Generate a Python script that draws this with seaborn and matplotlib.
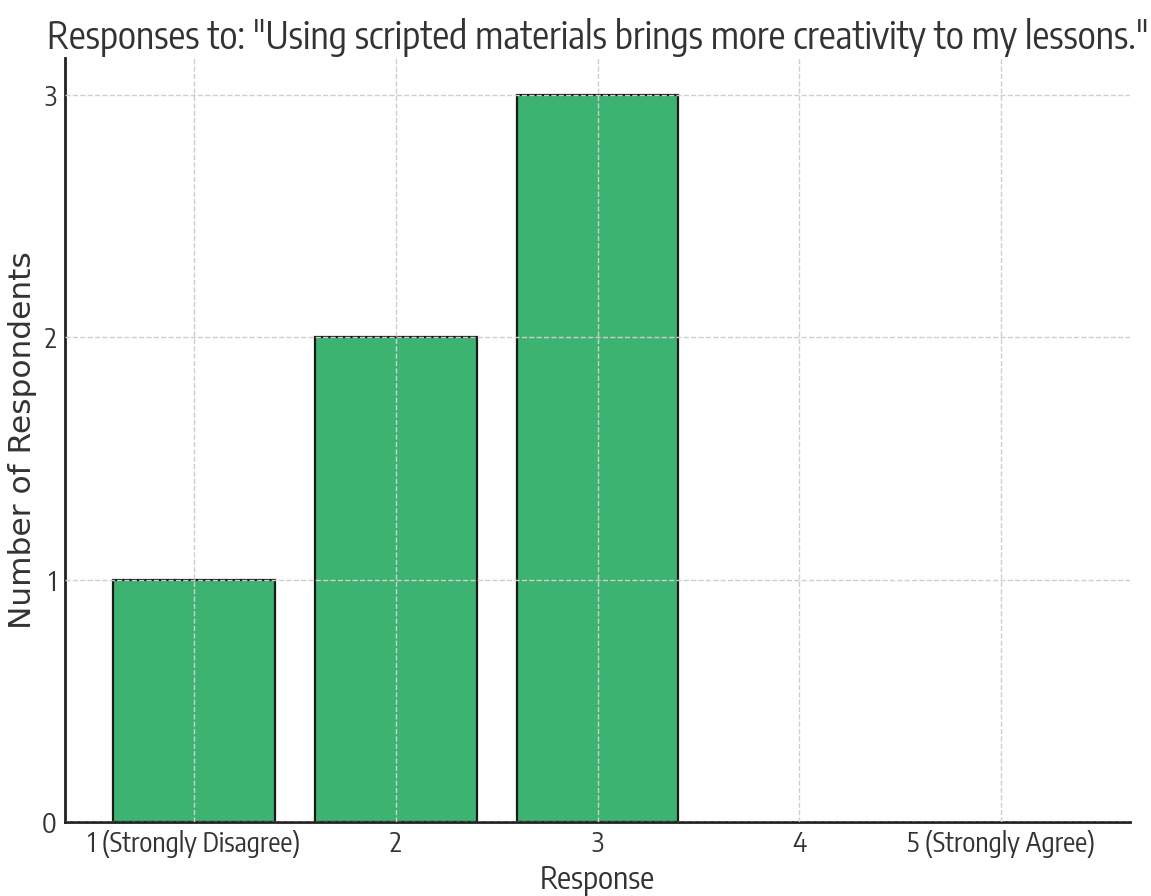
import matplotlib
matplotlib.use("Agg")
import matplotlib.pyplot as plt
import pandas as pd
import seaborn as sns

# Survey responses on the Likert scale and their counts
responses = ["1 (Strongly Disagree)", "2", "3", "4", "5 (Strongly Agree)"]
counts = [1, 2, 3, 0, 0]
y_ticks = [0, 1, 2, 3]
title = 'Responses to: "Using scripted materials brings more creativity to my lessons."'

sns.set_theme(style="white")
plt.rcParams["font.family"] = ["DejaVu Sans"]

TEXT = "#333333"
NARROW = ["Encode Sans Condensed", "DejaVu Sans"]

df = pd.DataFrame({"Response": responses, "Count": counts})

fig = plt.figure(figsize=(11.51, 8.96), dpi=100)
ax = fig.add_axes([0.0565, 0.0826, 0.9255, 0.8524])

sns.barplot(data=df, x="Response", y="Count", order=responses,
            color="#3CB371", saturation=1, edgecolor="#1a1a1a", linewidth=1.6,
            width=0.8, ax=ax)
# empty categories get no outline along the baseline
for bar in ax.patches:
    if bar.get_height() == 0:
        bar.set_linewidth(0)

ax.set_xlim(-0.64, 4.64)
ax.set_ylim(0, 3.15)
ax.set_yticks(y_ticks)

# dashed grid drawn over the bars
ax.grid(True, linestyle="--", color="#cfcfcf", linewidth=1.0)
ax.set_axisbelow(False)

for side in ("top", "right"):
    ax.spines[side].set_visible(False)
for side in ("left", "bottom"):
    ax.spines[side].set_color("#222222")
    ax.spines[side].set_linewidth(2.0)

ax.tick_params(axis="both", direction="in", length=7, width=1.2, color="#222222", pad=6)
for lbl in ax.get_xticklabels() + ax.get_yticklabels():
    lbl.set_fontfamily(NARROW)
    lbl.set_fontsize(18)
    lbl.set_color(TEXT)

ttl = ax.set_title(title, fontsize=27, pad=7, family=NARROW, color=TEXT)
xl = ax.set_xlabel("Response", fontsize=21, labelpad=4, family=NARROW, color=TEXT)
ax.set_ylabel("Number of Respondents", fontsize=22.5, color=TEXT)
ax.yaxis.set_label_coords(-0.026, 0.5)

# size the condensed texts to their intended widths (pixels)
fig.canvas.draw()
r = fig.canvas.get_renderer()

def fit(text, width_px):
    w = text.get_window_extent(r).width
    text.set_fontsize(text.get_fontsize() * width_px / w)

fit(ttl, 1102)
fit(xl, 115)
scale = 212 / ax.get_xticklabels()[0].get_window_extent(r).width
for lbl in ax.get_xticklabels() + ax.get_yticklabels():
    lbl.set_fontsize(lbl.get_fontsize() * scale)

fig.savefig("out.png", dpi=100)
